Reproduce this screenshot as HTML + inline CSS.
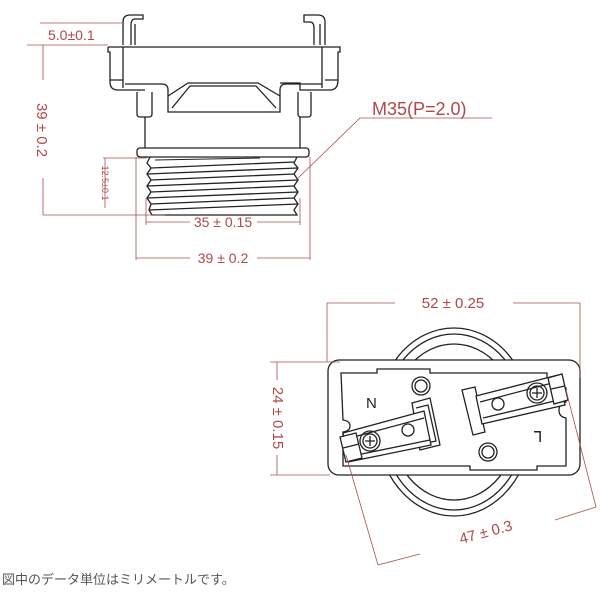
<!DOCTYPE html>
<html><head><meta charset="utf-8"><style>
html,body{margin:0;padding:0;background:#fff;}
svg{display:block;}
text{font-family:"Liberation Sans","Noto Sans CJK JP",sans-serif;}
</style></head><body>
<svg width="600" height="600" viewBox="0 0 600 600" xmlns="http://www.w3.org/2000/svg">
<g fill="none" stroke="#222" stroke-width="1.3">
<path d="M123 45 V22 Q123 15 130 15 H143 V19 H134 Q131 20 131 25 V45"/>
<path d="M135 45 V24"/>
<path d="M325 45 V22 Q325 15 318 15 H304 V22 H310 Q314 22 314 28 V45"/>
<path d="M320 45 V24"/>
<path d="M108 47 H340 V52 H338 V80 Q338 90 330 90 H300 V83 H280"/>
<path d="M108 47 V52 H110 V82 Q110 90 118 90 H145"/>
<path d="M123 47 V88 M322 47 V88 M110 80 H123 M325 80 H338"/>
<path d="M125 84 H162 Q168 84 168 90 V112 H280 V90 Q280 84 286 84 H322"/>
<path d="M168 96 L188 83 H258 L280 96"/>
<path d="M172 108 L190 86 H256 L276 108"/>
<path d="M137 92 V114 Q137 117 140 117 H149 Q152 117 152 114 V92"/>
<path d="M298 92 V114 Q298 117 301 117 H308 Q311 117 311 114 V92"/>
<path d="M145 117 V148 M300 117 V148"/>
<rect x="137" y="148" width="172" height="9" rx="3"/>
<path d="M150 157 L147 163 L151 168 L147 174 L151 180 L147 186 L151 192 L147 198 L151 204 L149 210 L152 215 H297 L294 210 L298 204 L294 198 L298 192 L294 186 L298 180 L294 174 L298 168 L294 163 L297 157"/>
<path d="M151 168 L294 162 M147 174 L298 168 M151 180 L294 174 M147 186 L298 180 M151 192 L294 186 M147 198 L298 192 M151 204 L294 198 M149 210 L298 204"/>
<path d="M155 160 L260 158" stroke-width="1"/>
</g>
<g stroke="#a85050" stroke-width="0.8" fill="none">
<path d="M40 23 H122 M27 45 H108"/>
<path d="M43 45 V80 M43 178 V215 M43 215 H165"/>
<path d="M105 158 V208 M103 158 H147"/>
<path d="M146 198 V225 M300 198 V225 M146 222 H190 M257 222 H300"/>
<path d="M136 157 V260 M310 157 V260 M136 258 H190 M257 258 H310"/>
<path d="M360 118 H492 M360 118 L296 180"/>
</g>
<g fill="#b04848">
<text x="48" y="40" font-size="14">5.0±0.1</text>
<text transform="translate(37,130) rotate(90)" font-size="15" text-anchor="middle">39 ± 0.2</text>
<text transform="translate(102,183) rotate(90)" font-size="9" text-anchor="middle">12.5±0.1</text>
<text x="223" y="227" font-size="14" text-anchor="middle">35 ± 0.15</text>
<text x="223" y="263" font-size="14" text-anchor="middle">39 ± 0.2</text>
<text x="372" y="115" font-size="18">M35(P=2.0)</text>
</g>
<g fill="none" stroke="#222" stroke-width="1.3">
<ellipse cx="454" cy="422" rx="78" ry="94"/>
<ellipse cx="454" cy="422" rx="72" ry="88"/>
<ellipse cx="454" cy="422" rx="64" ry="78"/>
<rect x="328" y="360" width="252" height="115" rx="11" fill="#fff"/>
<path d="M341 373 H377 V369 H430 V373 H547 V388 H566 V402 Q559 403 559 410 Q559 417 566 418 V466 H537 V470 H470 V466 H343 V432 Q350 431 350 426 Q350 421 343 420 Z"/>
<circle cx="421" cy="386" r="9"/><circle cx="421" cy="386" r="6"/>
<circle cx="488" cy="452" r="9"/><circle cx="488" cy="452" r="6"/>
<!-- N terminal -->
<path d="M412 403 L430 398 L440 445 L420 450 Z" fill="#fff"/>
<path d="M416 408 L428 405 L436 441 L422 444"/>
<path d="M343 433 L424 411 L431 445 L348 462 Z" fill="#fff"/>
<path d="M350 438 L424 418 M352 456 L430 440"/>
<circle cx="408" cy="430" r="6"/>
<circle cx="370" cy="441" r="10"/><circle cx="370" cy="441" r="7"/>
<path d="M365 441 H375 M370 436 V446"/>
<path d="M340 437 L356 433 L362 458 L346 462 Z" fill="#fff"/>
<path d="M343 448 L359 444"/>
<!-- L terminal -->
<path d="M462 390 L475 387 L485 432 L473 435 Z" fill="#fff"/>
<path d="M476 396 L558 375 L565 405 L482 424 Z" fill="#fff"/>
<path d="M480 402 L556 382 M483 418 L563 399"/>
<circle cx="498" cy="404" r="6"/>
<circle cx="537" cy="393" r="10"/><circle cx="537" cy="393" r="7"/>
<path d="M532 393 H542 M537 388 V398"/>
<path d="M548 378 L562 374 L568 400 L554 404 Z" fill="#fff"/>
<path d="M551 389 L565 386"/>
</g>
<g fill="#222">
<text x="366" y="408" font-size="15">N</text>
<text x="534" y="442" font-size="15">⅂</text>
</g>
<g stroke="#a85050" stroke-width="0.8" fill="none">
<path d="M327 303 H395 M513 303 H580 M327 303 V362 M580 303 V378"/>
<path d="M270 362 H340 M270 475 H330 M277 362 V380 M277 455 V475"/>
<path d="M346 455 L378 565 M566 390 L596 507 M378 565 L420 554 M555 520 L596 507"/>
</g>
<g fill="#b04848">
<text x="453" y="308" font-size="15" text-anchor="middle">52 ± 0.25</text>
<text transform="translate(273,418) rotate(90)" font-size="15" text-anchor="middle">24 ± 0.15</text>
<text transform="translate(487,537) rotate(-15)" font-size="15" text-anchor="middle">47 ± 0.3</text>
</g>
<text x="2" y="584" font-size="13" fill="#555">図中のデータ単位はミリメートルです。</text>
</svg>
</body></html>
